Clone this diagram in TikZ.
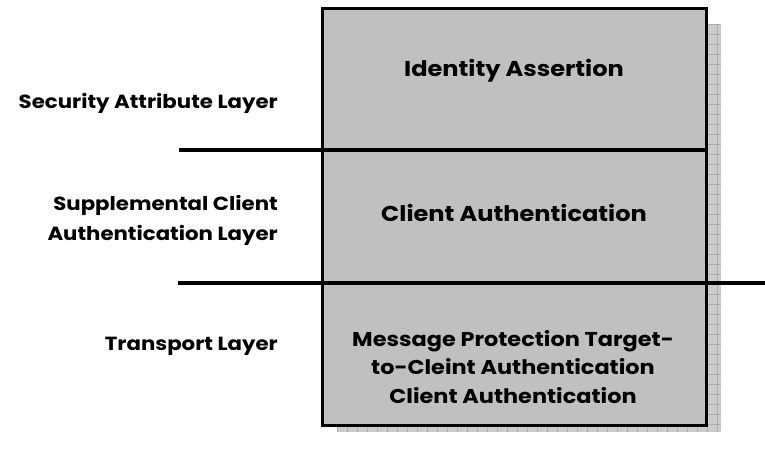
\documentclass[tikz,border=0pt]{standalone}
\usepackage{fontspec}
\setmainfont{Poppins}
\newfontfamily\widesans[FakeStretch=1.12]{Poppins}
\begin{document}
\begin{tikzpicture}[x=1pt,y=-1pt,
  layerlabel/.style={font=\widesans\bfseries\fontsize{19}{30}\selectfont, align=right, anchor=east, inner sep=0pt},
  boxtext/.style={font=\widesans\bfseries\fontsize{21.5}{28.5}\selectfont, align=center, inner sep=0pt},
  divider/.style={line width=3.5pt}]
\useasboundingbox (0,0) rectangle (765,452);
% shadow behind the stack
\fill[gray!40] (337,24) rectangle (721,432);
\begin{scope}
  \clip (337,24) rectangle (721,432);
  \foreach \x in {337,347,...,721} \draw[gray!65, line width=0.5pt] (\x,24) -- (\x,432);
  \foreach \y in {24,34,...,432} \draw[gray!65, line width=0.5pt] (337,\y) -- (721,\y);
\end{scope}
% the stack box
\draw[fill={rgb,255:red,192;green,192;blue,192}, line width=3pt] (322.5,8.5) rectangle (706.5,425);
% layer dividers
\coordinate (d1a) at (179,150);
\coordinate (d1b) at (706.5,150);
\coordinate (d2a) at (178,283);
\coordinate (d2b) at (765,283);
\draw[divider] (d1a) -- (d1b);
\draw[divider] (d2a) -- (d2b);
% texts inside the box
\node[boxtext] (ia) at (514,71) {Identity Assertion};
\node[boxtext] (ca) at (514,213) {Client Authentication};
\node[boxtext, font=\widesans\bfseries\fontsize{20}{28.5}\selectfont] (mp) at (513,367) {Message Protection Target-\\to-Cleint Authentication\\Client Authentication};
% layer labels
\node[layerlabel] (sal) at (278,103) {Security Attribute Layer};
\node[layerlabel] (scal) at (278,220) {Supplemental Client\\Authentication Layer};
\node[layerlabel] (tl) at (278,346) {Transport Layer};
\end{tikzpicture}
\end{document}
